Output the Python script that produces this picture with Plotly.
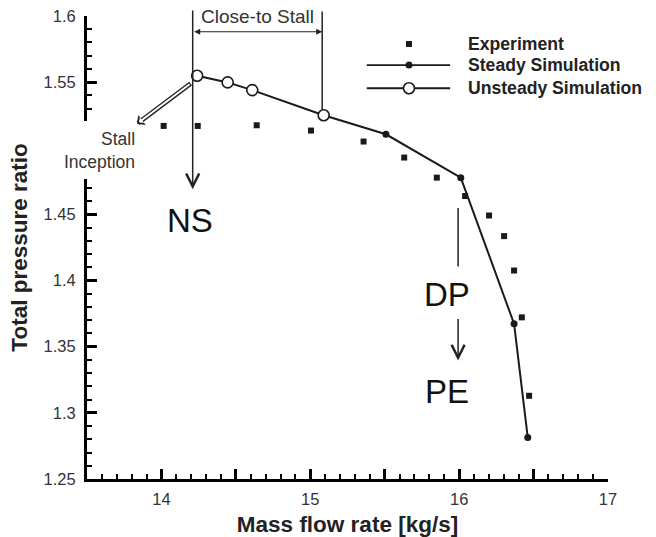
import plotly.graph_objects as go

# Compressor speedline: total pressure ratio versus mass flow rate
exp_flow = [14.015, 14.244, 14.640, 15.005, 15.358, 15.631, 15.850, 16.040,
            16.201, 16.302, 16.369, 16.421, 16.470]
exp_ratio = [1.5169, 1.5169, 1.5174, 1.5134, 1.5051, 1.4930, 1.4778, 1.4639,
             1.4492, 1.4336, 1.4076, 1.3722, 1.3129]

steady_flow = [15.09, 15.508, 16.011, 16.369, 16.461]
steady_ratio = [1.525, 1.5106, 1.4778, 1.3674, 1.2813]

unsteady_flow = [14.24, 14.445, 14.61, 15.09]
unsteady_ratio = [1.5548, 1.5498, 1.5440, 1.525]

x_tickvals = [13.5, 14, 14.5, 15, 15.5, 16, 16.5, 17]
x_ticktext = ["", "14", "", "15", "", "16", "", "17"]
# the 1.5 label sits behind the stall-inception note and is left blank
y_tickvals = [1.25, 1.3, 1.35, 1.4, 1.45, 1.5, 1.55, 1.6]
y_ticktext = ["1.25", "1.3", "1.35", "1.4", "1.45", "", "1.55", "1.6"]

legend_labels = ["Experiment", "Steady Simulation", "Unsteady Simulation"]

FONT = "Liberation Sans, Arial, Helvetica, sans-serif"
INK = "#1a1a1a"

fig = go.Figure()

fig.add_trace(go.Scatter(
    x=steady_flow, y=steady_ratio, mode="lines+markers",
    line=dict(color=INK, width=2),
    marker=dict(symbol="circle", size=7, color=INK),
    showlegend=False, cliponaxis=False))

fig.add_trace(go.Scatter(
    x=unsteady_flow, y=unsteady_ratio, mode="lines+markers",
    line=dict(color=INK, width=2),
    marker=dict(symbol="circle", size=11, color="white",
                line=dict(color=INK, width=1.6)),
    showlegend=False, cliponaxis=False))

fig.add_trace(go.Scatter(
    x=exp_flow, y=exp_ratio, mode="markers",
    marker=dict(symbol="square", size=6, color=INK),
    showlegend=False, cliponaxis=False))

# Hand-made legend on an invisible overlay axis spanning the plot area
leg_rows = [0.9395, 0.894, 0.844]
leg_x0, leg_xm, leg_x1 = 0.537, 0.618, 0.697
fig.add_trace(go.Scatter(
    x=[leg_xm], y=[leg_rows[0]], xaxis="x2", yaxis="y2", mode="markers",
    marker=dict(symbol="square", size=6, color=INK), showlegend=False,
    hoverinfo="skip"))
fig.add_trace(go.Scatter(
    x=[leg_x0, leg_xm, leg_x1], y=[leg_rows[1]] * 3, xaxis="x2", yaxis="y2",
    mode="lines", line=dict(color=INK, width=1.6), showlegend=False,
    hoverinfo="skip"))
fig.add_trace(go.Scatter(
    x=[leg_xm], y=[leg_rows[1]], xaxis="x2", yaxis="y2", mode="markers",
    marker=dict(symbol="circle", size=7, color=INK), showlegend=False,
    hoverinfo="skip"))
fig.add_trace(go.Scatter(
    x=[leg_x0, leg_xm, leg_x1], y=[leg_rows[2]] * 3, xaxis="x2", yaxis="y2",
    mode="lines", line=dict(color=INK, width=2), showlegend=False,
    hoverinfo="skip"))
fig.add_trace(go.Scatter(
    x=[leg_xm], y=[leg_rows[2]], xaxis="x2", yaxis="y2", mode="markers",
    marker=dict(symbol="circle", size=11, color="white",
                line=dict(color=INK, width=1.6)),
    showlegend=False, hoverinfo="skip"))

annotations = []
for label, yr in zip(legend_labels, leg_rows):
    annotations.append(dict(
        text="<b>%s</b>" % label, x=0.727, y=yr, xref="paper", yref="paper",
        xanchor="left", yanchor="middle", showarrow=False,
        font=dict(family=FONT, size=17.6, color="#222")))

# "Close-to Stall" bracket
left_x, right_x = 14.21, 15.08
bracket_top = 1.6053
annotations += [
    # left bracket edge, continuing down to the NS arrow
    dict(x=left_x, y=1.469, ax=left_x, ay=bracket_top, xref="x", yref="y",
         axref="x", ayref="y", text="", showarrow=True, arrowhead=5,
         arrowsize=1.7, arrowwidth=1.5, arrowcolor="#222"),
    # right bracket edge, ending on the last unsteady point
    dict(x=right_x, y=1.5292, ax=right_x, ay=1.6045, xref="x", yref="y",
         axref="x", ayref="y", text="", showarrow=True, arrowhead=0,
         arrowwidth=1.5, arrowcolor="#222"),
    # double-headed span arrow
    dict(x=right_x, y=1.5881, ax=left_x, ay=1.5881, xref="x", yref="y",
         axref="x", ayref="y", text="", showarrow=True, arrowhead=2,
         startarrowhead=2, arrowside="end+start", arrowsize=1,
         startarrowsize=1, arrowwidth=1.2, arrowcolor="#222"),
    dict(text="Close-to Stall", x=14.644, y=1.5995, xref="x", yref="y",
         showarrow=False, xanchor="center", yanchor="middle",
         font=dict(family=FONT, size=19, color="#333")),
    dict(text="NS", x=14.193, y=1.4457, xref="x", yref="y", showarrow=False,
         font=dict(family=FONT, size=33, color="#111")),
    # design point line and arrow towards peak efficiency
    dict(x=15.993, y=1.4106, ax=15.993, ay=1.456, xref="x", yref="y",
         axref="x", ayref="y", text="", showarrow=True, arrowhead=0,
         arrowwidth=1.5, arrowcolor="#222"),
    dict(text="DP", x=15.92, y=1.3894, xref="x", yref="y", showarrow=False,
         font=dict(family=FONT, size=33, color="#111")),
    dict(x=15.993, y=1.3395, ax=15.993, ay=1.372, xref="x", yref="y",
         axref="x", ayref="y", text="", showarrow=True, arrowhead=5,
         arrowsize=1.7, arrowwidth=1.5, arrowcolor="#222"),
    dict(text="PE", x=15.92, y=1.316, xref="x", yref="y", showarrow=False,
         font=dict(family=FONT, size=33, color="#111")),
    # stall inception label and hollow arrow
    dict(text="Stall<br>Inception", x=13.839, y=1.4985, xref="x", yref="y",
         showarrow=False, xanchor="right", yanchor="middle", align="right",
         font=dict(family=FONT, size=17.5, color="#333")),
    dict(x=13.836, y=1.5185, ax=14.206, ay=1.5498, xref="x", yref="y",
         axref="x", ayref="y", text="", showarrow=True, arrowhead=1,
         arrowsize=0.45, arrowwidth=4.6, arrowcolor="#222"),
    dict(x=13.836, y=1.5185, ax=14.206, ay=1.5498, xref="x", yref="y",
         axref="x", ayref="y", text="", showarrow=True, arrowhead=1,
         arrowsize=0.6, arrowwidth=2.0, arrowcolor="white",
         standoff=2.6, startstandoff=1.2),
]

shapes = [
    # white patch interrupting the y axis behind the stall label
    dict(type="rect", xref="paper", yref="paper", x0=-0.09, x1=0.03,
         y0=0.648, y1=0.7732, fillcolor="white", line=dict(width=0),
         layer="above"),
]

axis_common = dict(
    showgrid=False, zeroline=False, showline=True, linecolor="black",
    linewidth=3, ticks="inside", tickcolor="black", tickwidth=3, ticklen=10,
    tickfont=dict(family=FONT, size=16.5, color="#333"), mirror=False,
    automargin=False,
)

fig.update_layout(
    width=656, height=537,
    margin=dict(l=87, r=48, t=16, b=58),
    paper_bgcolor="white", plot_bgcolor="white",
    xaxis=dict(
        range=[13.5, 17], tickmode="array", tickvals=x_tickvals,
        ticktext=x_ticktext, ticklabelstandoff=3,
        minor=dict(dtick=0.1, tick0=13.5, ticks="inside", ticklen=5,
                   tickwidth=1.5, tickcolor="black"),
        title=dict(text="<b>Mass flow rate [kg/s]</b>", standoff=12,
                   font=dict(family=FONT, size=22.5, color="#222")),
        **axis_common),
    yaxis=dict(
        range=[1.25, 1.6], tickmode="array", tickvals=y_tickvals,
        ticktext=y_ticktext, ticklabelstandoff=5,
        minor=dict(dtick=0.01, tick0=1.25, ticks="inside", ticklen=5,
                   tickwidth=1.5, tickcolor="black"),
        title=dict(text="<b>Total pressure ratio</b>", standoff=10,
                   font=dict(family=FONT, size=22.5, color="#222")),
        **axis_common),
    xaxis2=dict(overlaying="x", range=[0, 1], visible=False, anchor="y2"),
    yaxis2=dict(overlaying="y", range=[0, 1], visible=False, anchor="x2"),
    annotations=annotations,
    shapes=shapes,
    showlegend=False,
)

fig.write_html("out.html")
